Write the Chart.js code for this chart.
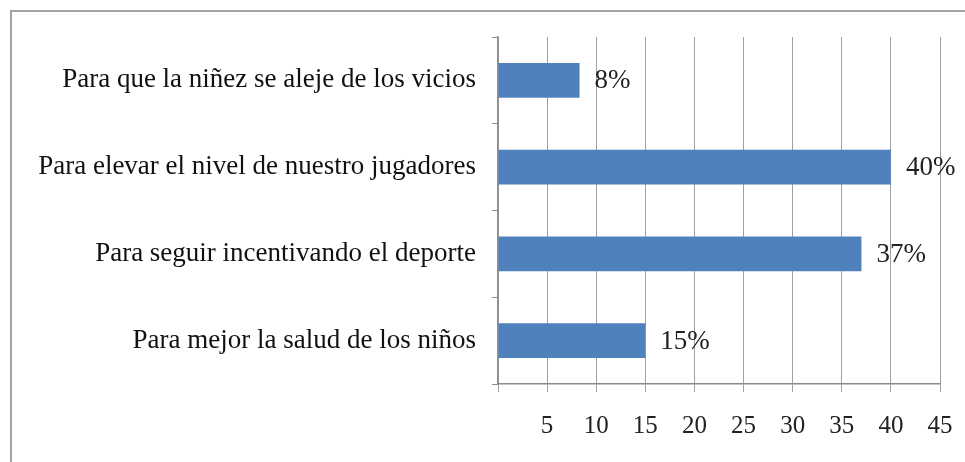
<!DOCTYPE html>
<html>
<head>
<meta charset="utf-8">
<script src="https://cdn.jsdelivr.net/npm/chart.js@4/dist/chart.umd.min.js"></script>
<style>
  body { margin: 0; background: #fff; }
  #wrap { position: relative; width: 965px; height: 462px; }
  #frame {
    position: absolute; left: 10px; top: 10px; right: -10px; bottom: -10px;
    border-left: 2px solid #a3a3a3; border-top: 2px solid #a3a3a3;
  }
  canvas { position: absolute; left: 0; top: 0; }
</style>
</head>
<body>
<div id="wrap">
  <div id="frame"></div>
  <canvas id="chart" width="965" height="462"></canvas>
</div>
<script>
const categories = [
  "Para que la niñez se aleje de los vicios",
  "Para elevar el nivel de nuestro jugadores",
  "Para seguir incentivando el deporte",
  "Para mejor la salud de los niños"
];
const values = [8.3, 40, 37, 15];
const valueLabels = ["8%", "40%", "37%", "15%"];
const xTicks = [5, 10, 15, 20, 25, 30, 35, 40, 45];

const serif = "'Liberation Serif', 'DejaVu Serif', serif";

// etiquetas de valor junto a cada barra
const barLabels = {
  id: "barLabels",
  afterDatasetsDraw(chart) {
    const ctx = chart.ctx;
    const meta = chart.getDatasetMeta(0);
    ctx.save();
    ctx.font = "27px " + serif;
    ctx.fillStyle = "#222";
    ctx.textAlign = "left";
    ctx.textBaseline = "middle";
    meta.data.forEach((bar, i) => {
      ctx.fillText(valueLabels[i], bar.x + 15, bar.y + 1);
    });
    ctx.restore();
  }
};

const ctx = document.getElementById("chart").getContext("2d");
new Chart(ctx, {
  type: "bar",
  data: {
    labels: categories,
    datasets: [{
      data: values,
      backgroundColor: "#4f81bd",
      borderWidth: 0,
      categoryPercentage: 1,
      barPercentage: 0.4
    }]
  },
  options: {
    indexAxis: "y",
    responsive: false,
    animation: false,
    layout: { padding: { top: 37, right: 25, left: 0, bottom: 0 } },
    plugins: { legend: { display: false }, tooltip: { enabled: false } },
    scales: {
      x: {
        min: 0,
        max: 45,
        afterFit: (scale) => {
          scale.height = 78;
          scale.paddingLeft = 0;
          scale.paddingRight = 0;
        },
        afterBuildTicks: (scale) => {
          scale.ticks = [0].concat(xTicks).map(v => ({ value: v }));
        },
        ticks: {
          padding: 19,
          maxRotation: 0,
          color: "#222",
          font: { family: serif, size: 25 },
          callback: (v) => (v === 0 ? "" : v)
        },
        grid: { color: "#a0a0a0", lineWidth: 1, tickLength: 8 },
        border: { color: "#8c8c8c", width: 1.5 }
      },
      y: {
        afterFit: (scale) => { scale.width = 498; },
        ticks: {
          padding: 16,
          color: "#111",
          font: { family: serif, size: 27 }
        },
        grid: { drawOnChartArea: false, offset: true, tickLength: 6, color: "#8c8c8c" },
        border: { color: "#8c8c8c", width: 1.5 }
      }
    }
  },
  plugins: [barLabels]
});
</script>
</body>
</html>
